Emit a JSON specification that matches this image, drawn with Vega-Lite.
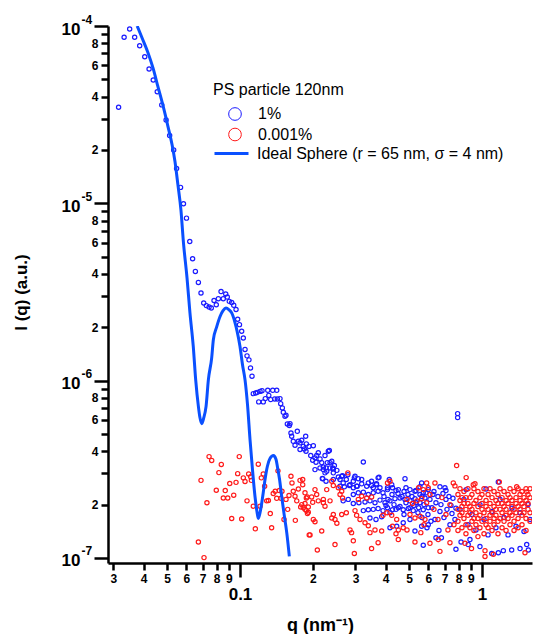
{
"$schema":"https://vega.github.io/schema/vega-lite/v6.json",
"width":424,"height":537,
"autosize":{"type":"none"},
"padding":{"left":108,"top":26,"right":6,"bottom":71},
"config":{"font":"Liberation Sans","view":{"stroke":null},"axis":{"grid":false}},
"resolve":{"axis":{"y":"independent"},"scale":{"color":"independent"}},
"datasets":{
"pts":[
{"s":"1%","q":0.0315,"I":3.48e-5},{"s":"1%","q":0.0332,"I":8.64e-5},{"s":"1%","q":0.0350,"I":9.62e-5},{"s":"1%","q":0.0367,"I":8.64e-5},{"s":"1%","q":0.0385,"I":7.74e-5},{"s":"1%","q":0.0404,"I":6.71e-5},{"s":"1%","q":0.0421,"I":5.72e-5},{"s":"1%","q":0.0438,"I":4.96e-5},{"s":"1%","q":0.0455,"I":4.26e-5},{"s":"1%","q":0.0475,"I":3.59e-5},{"s":"1%","q":0.0495,"I":2.95e-5},{"s":"1%","q":0.0512,"I":2.41e-5},{"s":"1%","q":0.0532,"I":2.00e-5},{"s":"1%","q":0.0547,"I":1.57e-5},{"s":"1%","q":0.0568,"I":1.23e-5},{"s":"1%","q":0.0584,"I":9.94e-6},{"s":"1%","q":0.0601,"I":8.25e-6},{"s":"1%","q":0.0620,"I":6.09e-6},{"s":"1%","q":0.0637,"I":4.87e-6},{"s":"1%","q":0.0654,"I":4.13e-6},{"s":"1%","q":0.0673,"I":3.58e-6},{"s":"1%","q":0.0690,"I":3.12e-6},{"s":"1%","q":0.0708,"I":2.74e-6},{"s":"1%","q":0.0726,"I":2.65e-6},{"s":"1%","q":0.0745,"I":2.60e-6},{"s":"1%","q":0.0761,"I":2.57e-6},{"s":"1%","q":0.0781,"I":2.83e-6},{"s":"1%","q":0.0798,"I":2.68e-6},{"s":"1%","q":0.0814,"I":2.90e-6},{"s":"1%","q":0.0835,"I":3.18e-6},{"s":"1%","q":0.0853,"I":2.90e-6},{"s":"1%","q":0.0873,"I":3.08e-6},{"s":"1%","q":0.0886,"I":2.96e-6},{"s":"1%","q":0.0903,"I":2.80e-6},{"s":"1%","q":0.0924,"I":2.76e-6},{"s":"1%","q":0.0942,"I":2.66e-6},{"s":"1%","q":0.0963,"I":2.52e-6},{"s":"1%","q":0.0978,"I":2.22e-6},{"s":"1%","q":0.0995,"I":2.07e-6},{"s":"1%","q":0.1016,"I":1.90e-6},{"s":"1%","q":0.1032,"I":1.74e-6},{"s":"1%","q":0.1049,"I":1.50e-6},{"s":"1%","q":0.1069,"I":1.38e-6},{"s":"1%","q":0.1089,"I":1.31e-6},{"s":"1%","q":0.1105,"I":1.18e-6},{"s":"1%","q":0.1121,"I":1.06e-6},{"s":"1%","q":0.1135,"I":8.45e-7},{"s":"1%","q":0.1161,"I":8.52e-7},{"s":"1%","q":0.1179,"I":8.59e-7},{"s":"1%","q":0.1195,"I":7.59e-7},{"s":"1%","q":0.1210,"I":8.70e-7},{"s":"1%","q":0.1233,"I":8.78e-7},{"s":"1%","q":0.1248,"I":7.59e-7},{"s":"1%","q":0.1272,"I":7.92e-7},{"s":"1%","q":0.1302,"I":8.82e-7},{"s":"1%","q":0.1315,"I":8.26e-7},{"s":"1%","q":0.1339,"I":7.82e-7},{"s":"1%","q":0.1365,"I":8.82e-7},{"s":"1%","q":0.1391,"I":7.89e-7},{"s":"1%","q":0.1418,"I":8.82e-7},{"s":"1%","q":0.1427,"I":7.89e-7},{"s":"1%","q":0.1463,"I":7.92e-7},{"s":"1%","q":0.1473,"I":7.42e-7},{"s":"1%","q":0.1496,"I":7.02e-7},{"s":"1%","q":0.1510,"I":6.63e-7},{"s":"1%","q":0.1534,"I":6.29e-7},{"s":"1%","q":0.1549,"I":6.38e-7},{"s":"1%","q":0.1569,"I":5.70e-7},{"s":"1%","q":0.1599,"I":5.58e-7},{"s":"1%","q":0.1609,"I":5.72e-7},{"s":"1%","q":0.1624,"I":5.07e-7},{"s":"1%","q":0.1635,"I":4.86e-7},{"s":"1%","q":0.1660,"I":4.55e-7},{"s":"1%","q":0.1688,"I":4.32e-7},{"s":"1%","q":0.1725,"I":5.18e-7},{"s":"1%","q":0.1742,"I":4.55e-7},{"s":"1%","q":0.1770,"I":4.09e-7},{"s":"1%","q":0.1770,"I":4.46e-7},{"s":"1%","q":0.1799,"I":4.61e-7},{"s":"1%","q":0.1826,"I":4.26e-7},{"s":"1%","q":0.1843,"I":4.12e-7},{"s":"1%","q":0.1868,"I":4.86e-7},{"s":"1%","q":0.1880,"I":4.40e-7},{"s":"1%","q":0.1874,"I":4.00e-7},{"s":"1%","q":0.1928,"I":4.26e-7},{"s":"1%","q":0.1960,"I":3.78e-7},{"s":"1%","q":0.1997,"I":3.56e-7},{"s":"1%","q":0.2009,"I":4.30e-7},{"s":"1%","q":0.2041,"I":3.67e-7},{"s":"1%","q":0.2074,"I":3.78e-7},{"s":"1%","q":0.2106,"I":3.92e-7},{"s":"1%","q":0.2141,"I":3.62e-7},{"s":"1%","q":0.2176,"I":3.45e-7},{"s":"1%","q":0.2210,"I":3.15e-7},{"s":"1%","q":0.2245,"I":3.78e-7},{"s":"1%","q":0.2267,"I":3.22e-7},{"s":"1%","q":0.2295,"I":3.45e-7},{"s":"1%","q":0.2317,"I":4.00e-7},{"s":"1%","q":0.2355,"I":3.45e-7},{"s":"1%","q":0.2394,"I":3.51e-7},{"s":"1%","q":0.2417,"I":3.22e-7},{"s":"1%","q":0.2454,"I":3.32e-7},{"s":"1%","q":0.2513,"I":3.12e-7},{"s":"1%","q":0.2189,"I":2.81e-7},{"s":"1%","q":0.2267,"I":2.71e-7},{"s":"1%","q":0.2590,"I":2.77e-7},{"s":"1%","q":0.2632,"I":2.89e-7},{"s":"1%","q":0.2669,"I":2.65e-7},{"s":"1%","q":0.2750,"I":2.77e-7},{"s":"1%","q":0.2790,"I":2.95e-7},{"s":"1%","q":0.2848,"I":2.59e-7},{"s":"1%","q":0.2939,"I":2.71e-7},{"s":"1%","q":0.2987,"I":2.89e-7},{"s":"1%","q":0.3033,"I":2.54e-7},{"s":"1%","q":0.3183,"I":2.77e-7},{"s":"1%","q":0.3233,"I":3.48e-7},{"s":"1%","q":0.3339,"I":2.54e-7},{"s":"1%","q":0.3390,"I":2.65e-7},{"s":"1%","q":0.3497,"I":2.71e-7},{"s":"1%","q":0.3553,"I":2.49e-7},{"s":"1%","q":0.3665,"I":2.59e-7},{"s":"1%","q":0.3721,"I":2.83e-7},
{"s":"1%","q":0.2041,"I":3.15e-7},{"s":"1%","q":0.2141,"I":3.22e-7},{"s":"1%","q":0.2210,"I":3.26e-7},{"s":"1%","q":0.2282,"I":3.08e-7},{"s":"1%","q":0.2355,"I":3.22e-7},{"s":"1%","q":0.2430,"I":3.18e-7},{"s":"1%","q":0.2245,"I":3.02e-7},{"s":"1%","q":0.2430,"I":3.02e-7},{"s":"1%","q":0.2061,"I":3.47e-7},{"s":"1%","q":0.2340,"I":4.04e-7},{"s":"1%","q":0.2198,"I":2.80e-7},{"s":"1%","q":0.2430,"I":2.77e-7},{"s":"1%","q":0.2549,"I":2.86e-7},{"s":"1%","q":0.2654,"I":2.91e-7},{"s":"1%","q":0.2968,"I":2.83e-7},{"s":"1%","q":0.3082,"I":2.80e-7},{"s":"1%","q":0.3752,"I":2.85e-7},{"s":"1%","q":0.2590,"I":2.54e-7},{"s":"1%","q":0.2698,"I":2.52e-7},{"s":"1%","q":0.2829,"I":2.56e-7},{"s":"1%","q":0.2940,"I":2.49e-7},{"s":"1%","q":0.3050,"I":2.54e-7},{"s":"1%","q":0.3183,"I":2.62e-7},{"s":"1%","q":0.3497,"I":2.56e-7},{"s":"1%","q":0.3665,"I":2.62e-7},{"s":"1%","q":0.3788,"I":2.49e-7},
{"s":"1%","q":0.2939,"I":2.28e-7},{"s":"1%","q":0.3082,"I":2.33e-7},{"s":"1%","q":0.3233,"I":2.35e-7},{"s":"1%","q":0.3390,"I":2.28e-7},{"s":"1%","q":0.3553,"I":2.33e-7},{"s":"1%","q":0.3721,"I":2.38e-7},{"s":"1%","q":0.3898,"I":2.33e-7},{"s":"1%","q":0.4069,"I":2.43e-7},{"s":"1%","q":0.4266,"I":2.49e-7},{"s":"1%","q":0.4509,"I":2.43e-7},{"s":"1%","q":0.4806,"I":2.80e-7},{"s":"1%","q":0.4851,"I":2.49e-7},{"s":"1%","q":0.5039,"I":2.43e-7},{"s":"1%","q":0.5284,"I":2.38e-7},{"s":"1%","q":0.5541,"I":2.52e-7},{"s":"1%","q":0.5718,"I":2.33e-7},{"s":"1%","q":0.5996,"I":2.43e-7},
{"s":"1%","q":0.2669,"I":2.10e-7},{"s":"1%","q":0.2801,"I":2.14e-7},{"s":"1%","q":0.2939,"I":2.03e-7},{"s":"1%","q":0.3100,"I":2.05e-7},{"s":"1%","q":0.3285,"I":2.07e-7},{"s":"1%","q":0.3444,"I":2.10e-7},{"s":"1%","q":0.3612,"I":2.05e-7},{"s":"1%","q":0.3788,"I":2.12e-7},{"s":"1%","q":0.3973,"I":2.05e-7},{"s":"1%","q":0.4166,"I":2.10e-7},{"s":"1%","q":0.4369,"I":2.16e-7},{"s":"1%","q":0.4582,"I":2.18e-7},{"s":"1%","q":0.4806,"I":2.14e-7},{"s":"1%","q":0.5039,"I":2.10e-7},{"s":"1%","q":0.5284,"I":2.16e-7},{"s":"1%","q":0.5541,"I":2.05e-7},{"s":"1%","q":0.5811,"I":2.18e-7},
{"s":"1%","q":0.3233,"I":1.85e-7},{"s":"1%","q":0.3390,"I":1.87e-7},{"s":"1%","q":0.3553,"I":1.88e-7},{"s":"1%","q":0.3721,"I":1.90e-7},{"s":"1%","q":0.3898,"I":1.85e-7},{"s":"1%","q":0.4069,"I":1.92e-7},{"s":"1%","q":0.4266,"I":1.87e-7},{"s":"1%","q":0.4509,"I":1.92e-7},{"s":"1%","q":0.4726,"I":1.87e-7},{"s":"1%","q":0.4960,"I":1.90e-7},{"s":"1%","q":0.5199,"I":1.85e-7},{"s":"1%","q":0.5472,"I":1.92e-7},{"s":"1%","q":0.5718,"I":1.87e-7},{"s":"1%","q":0.5996,"I":1.92e-7},
{"s":"1%","q":0.3444,"I":1.68e-7},{"s":"1%","q":0.3647,"I":1.65e-7},{"s":"1%","q":0.3849,"I":1.71e-7},{"s":"1%","q":0.4166,"I":1.48e-7},{"s":"1%","q":0.4441,"I":1.51e-7},{"s":"1%","q":0.4726,"I":1.58e-7},{"s":"1%","q":0.5039,"I":1.65e-7},{"s":"1%","q":0.5284,"I":1.42e-7},{"s":"1%","q":0.5630,"I":1.51e-7},{"s":"1%","q":0.5996,"I":1.54e-7},{"s":"1%","q":0.5718,"I":1.18e-7},
{"s":"1%","q":0.4138,"I":2.77e-7},{"s":"1%","q":0.4236,"I":2.59e-7},{"s":"1%","q":0.4069,"I":2.49e-7},
{"s":"1%","q":0.7930,"I":6.52e-7},{"s":"1%","q":0.7930,"I":6.19e-7},{"s":"1%","q":0.5630,"I":2.65e-7},{"s":"1%","q":0.6702,"I":2.52e-7},{"s":"1%","q":0.7029,"I":2.49e-7},{"s":"1%","q":0.8600,"I":2.43e-7},{"s":"1%","q":1.168,"I":2.68e-7},{"s":"1%","q":1.039,"I":2.45e-7},
{"s":"1%","q":0.5648,"I":2.22e-7},{"s":"1%","q":0.5756,"I":2.00e-7},{"s":"1%","q":0.5867,"I":2.33e-7},{"s":"1%","q":0.5979,"I":1.76e-7},{"s":"1%","q":0.6094,"I":2.14e-7},{"s":"1%","q":0.6211,"I":1.92e-7},{"s":"1%","q":0.6270,"I":2.28e-7},{"s":"1%","q":0.6391,"I":1.65e-7},{"s":"1%","q":0.6452,"I":2.05e-7},{"s":"1%","q":0.6576,"I":2.22e-7},{"s":"1%","q":0.6702,"I":1.83e-7},{"s":"1%","q":0.6766,"I":2.00e-7},{"s":"1%","q":0.6896,"I":2.31e-7},{"s":"1%","q":0.6962,"I":1.69e-7},{"s":"1%","q":0.7096,"I":2.14e-7},{"s":"1%","q":0.7164,"I":1.88e-7},{"s":"1%","q":0.7302,"I":2.22e-7},{"s":"1%","q":0.7371,"I":1.54e-7},{"s":"1%","q":0.7442,"I":1.98e-7},{"s":"1%","q":0.7513,"I":1.78e-7},{"s":"1%","q":0.7585,"I":2.17e-7},{"s":"1%","q":0.7730,"I":1.65e-7},{"s":"1%","q":0.7804,"I":1.91e-7},{"s":"1%","q":0.5923,"I":1.48e-7},{"s":"1%","q":0.6152,"I":1.61e-7},{"s":"1%","q":0.6639,"I":1.43e-7},
{"s":"1%","q":0.6452,"I":1.30e-7},{"s":"1%","q":0.6796,"I":1.30e-7},{"s":"1%","q":0.7804,"I":1.12e-7},{"s":"1%","q":0.8193,"I":1.23e-7},{"s":"1%","q":0.8770,"I":1.19e-7},{"s":"1%","q":0.9806,"I":1.16e-7},{"s":"1%","q":1.097,"I":1.06e-7},{"s":"1%","q":1.168,"I":1.07e-7},{"s":"1%","q":1.225,"I":1.10e-7},{"s":"1%","q":1.326,"I":1.11e-7},{"s":"1%","q":1.436,"I":1.13e-7},{"s":"1%","q":1.530,"I":1.19e-7},{"s":"1%","q":1.554,"I":1.11e-7},
{"s":"1%","q":0.8107,"I":1.88e-7},{"s":"1%","q":0.8421,"I":2.14e-7},{"s":"1%","q":0.8748,"I":1.54e-7},{"s":"1%","q":0.9087,"I":1.76e-7},{"s":"1%","q":0.9440,"I":1.44e-7},{"s":"1%","q":0.9806,"I":2.00e-7},{"s":"1%","q":1.019,"I":1.65e-7},{"s":"1%","q":1.059,"I":1.35e-7},{"s":"1%","q":1.100,"I":1.83e-7},{"s":"1%","q":1.142,"I":1.48e-7},{"s":"1%","q":1.187,"I":2.14e-7},{"s":"1%","q":1.233,"I":1.69e-7},{"s":"1%","q":1.281,"I":1.35e-7},{"s":"1%","q":1.330,"I":1.91e-7},{"s":"1%","q":1.382,"I":1.51e-7},{"s":"1%","q":1.436,"I":1.80e-7},{"s":"1%","q":1.491,"I":1.41e-7},{"s":"1%","q":1.549,"I":2.00e-7},{"s":"1%","q":1.579,"I":1.65e-7},{"s":"1%","q":0.8916,"I":1.27e-7},
{"s":"1%","q":0.3935,"I":2.22e-7},{"s":"1%","q":0.4011,"I":1.98e-7},{"s":"1%","q":0.4088,"I":2.14e-7},{"s":"1%","q":0.4166,"I":1.80e-7},{"s":"1%","q":0.4246,"I":2.28e-7},{"s":"1%","q":0.4328,"I":2.00e-7},{"s":"1%","q":0.4411,"I":1.88e-7},{"s":"1%","q":0.4496,"I":2.31e-7},{"s":"1%","q":0.4582,"I":1.95e-7},{"s":"1%","q":0.4670,"I":2.22e-7},{"s":"1%","q":0.4760,"I":1.76e-7},{"s":"1%","q":0.4851,"I":2.05e-7},{"s":"1%","q":0.4944,"I":2.28e-7},{"s":"1%","q":0.5039,"I":1.92e-7},{"s":"1%","q":0.5136,"I":2.22e-7},{"s":"1%","q":0.5234,"I":1.98e-7},{"s":"1%","q":0.5335,"I":2.40e-7},{"s":"1%","q":0.5437,"I":1.80e-7},{"s":"1%","q":0.5541,"I":2.28e-7},{"s":"1%","q":0.5648,"I":1.69e-7},{"s":"1%","q":0.4760,"I":2.37e-7},{"s":"1%","q":0.5335,"I":2.05e-7},{"s":"1%","q":0.4411,"I":2.40e-7},{"s":"1%","q":0.6330,"I":2.37e-7},{"s":"1%","q":0.7096,"I":2.40e-7},
{"s":"0.001%","q":0.0673,"I":1.23e-7},{"s":"0.001%","q":0.0710,"I":1.005e-7},{"s":"0.001%","q":0.0690,"I":2.74e-7},{"s":"0.001%","q":0.0730,"I":2.05e-7},{"s":"0.001%","q":0.0745,"I":3.73e-7},{"s":"0.001%","q":0.0764,"I":3.55e-7},{"s":"0.001%","q":0.0798,"I":2.41e-7},{"s":"0.001%","q":0.0818,"I":3.03e-7},{"s":"0.001%","q":0.0837,"I":3.37e-7},{"s":"0.001%","q":0.0853,"I":2.18e-7},{"s":"0.001%","q":0.0869,"I":2.40e-7},{"s":"0.001%","q":0.0890,"I":2.18e-7},{"s":"0.001%","q":0.0907,"I":2.63e-7},{"s":"0.001%","q":0.0924,"I":1.67e-7},{"s":"0.001%","q":0.0942,"I":2.26e-7},{"s":"0.001%","q":0.0963,"I":2.67e-7},{"s":"0.001%","q":0.0978,"I":2.99e-7},{"s":"0.001%","q":0.0993,"I":3.73e-7},{"s":"0.001%","q":0.1016,"I":1.66e-7},{"s":"0.001%","q":0.1032,"I":2.83e-7},{"s":"0.001%","q":0.1049,"I":2.70e-7},{"s":"0.001%","q":0.1069,"I":2.10e-7},{"s":"0.001%","q":0.1086,"I":2.98e-7},{"s":"0.001%","q":0.1107,"I":2.87e-7},{"s":"0.001%","q":0.1114,"I":2.74e-7},{"s":"0.001%","q":0.1135,"I":1.96e-7},{"s":"0.001%","q":0.1157,"I":1.46e-7},{"s":"0.001%","q":0.1190,"I":3.38e-7},{"s":"0.001%","q":0.1210,"I":1.96e-7},{"s":"0.001%","q":0.1225,"I":2.83e-7},{"s":"0.001%","q":0.1248,"I":2.98e-7},{"s":"0.001%","q":0.1264,"I":2.54e-7},{"s":"0.001%","q":0.1289,"I":2.10e-7},{"s":"0.001%","q":0.1310,"I":2.11e-7},{"s":"0.001%","q":0.1334,"I":1.78e-7},{"s":"0.001%","q":0.1351,"I":1.48e-7},{"s":"0.001%","q":0.1372,"I":2.31e-7},{"s":"0.001%","q":0.1398,"I":2.38e-7},{"s":"0.001%","q":0.1418,"I":2.17e-7},{"s":"0.001%","q":0.1435,"I":3.10e-7},{"s":"0.001%","q":0.1454,"I":2.40e-7},{"s":"0.001%","q":0.1476,"I":2.17e-7},{"s":"0.001%","q":0.1491,"I":2.38e-7},{"s":"0.001%","q":0.1520,"I":1.65e-7},{"s":"0.001%","q":0.1549,"I":2.14e-7},{"s":"0.001%","q":0.1574,"I":1.88e-7},{"s":"0.001%","q":0.1594,"I":2.25e-7},{"s":"0.001%","q":0.1624,"I":2.89e-7},{"s":"0.001%","q":0.1640,"I":2.65e-7},{"s":"0.001%","q":0.1660,"I":2.38e-7},{"s":"0.001%","q":0.1688,"I":2.23e-7},{"s":"0.001%","q":0.1693,"I":1.63e-7},{"s":"0.001%","q":0.1716,"I":2.10e-7},{"s":"0.001%","q":0.1742,"I":2.45e-7},{"s":"0.001%","q":0.1770,"I":2.74e-7},{"s":"0.001%","q":0.1816,"I":2.59e-7},{"s":"0.001%","q":0.1781,"I":1.94e-7},{"s":"0.001%","q":0.1826,"I":1.92e-7},{"s":"0.001%","q":0.1856,"I":1.88e-7},{"s":"0.001%","q":0.1880,"I":2.18e-7},{"s":"0.001%","q":0.1900,"I":1.78e-7},{"s":"0.001%","q":0.1932,"I":1.35e-7},
{"s":"0.001%","q":0.1816,"I":2.77e-7},{"s":"0.001%","q":0.1856,"I":2.33e-7},{"s":"0.001%","q":0.1896,"I":2.21e-7},{"s":"0.001%","q":0.1799,"I":2.00e-7},{"s":"0.001%","q":0.1856,"I":2.03e-7},{"s":"0.001%","q":0.1915,"I":1.94e-7},{"s":"0.001%","q":0.1880,"I":1.85e-7},{"s":"0.001%","q":0.1915,"I":1.81e-7},{"s":"0.001%","q":0.2041,"I":2.43e-7},{"s":"0.001%","q":0.2074,"I":2.28e-7},{"s":"0.001%","q":0.1977,"I":2.21e-7},{"s":"0.001%","q":0.1997,"I":2.06e-7},{"s":"0.001%","q":0.2106,"I":2.10e-7},{"s":"0.001%","q":0.2210,"I":2.14e-7},{"s":"0.001%","q":0.2210,"I":2.05e-7},{"s":"0.001%","q":0.2245,"I":1.96e-7},{"s":"0.001%","q":0.2355,"I":2.10e-7},{"s":"0.001%","q":0.2009,"I":1.65e-7},{"s":"0.001%","q":0.2041,"I":1.60e-7},{"s":"0.001%","q":0.1947,"I":1.35e-7},{"s":"0.001%","q":0.2176,"I":1.42e-7},{"s":"0.001%","q":0.2087,"I":1.11e-7},{"s":"0.001%","q":0.2430,"I":1.76e-7},{"s":"0.001%","q":0.2394,"I":1.68e-7},{"s":"0.001%","q":0.2469,"I":1.65e-7},{"s":"0.001%","q":0.2513,"I":1.57e-7},{"s":"0.001%","q":0.2282,"I":2.43e-7},{"s":"0.001%","q":0.2394,"I":2.71e-7},{"s":"0.001%","q":0.2430,"I":2.56e-7},{"s":"0.001%","q":0.2549,"I":2.49e-7},{"s":"0.001%","q":0.2469,"I":1.19e-7},{"s":"0.001%","q":0.2590,"I":2.28e-7},{"s":"0.001%","q":0.2632,"I":2.38e-7},{"s":"0.001%","q":0.2654,"I":2.18e-7},{"s":"0.001%","q":0.2750,"I":1.80e-7},{"s":"0.001%","q":0.2632,"I":1.76e-7},{"s":"0.001%","q":0.2790,"I":3.02e-7},{"s":"0.001%","q":0.2848,"I":1.44e-7},{"s":"0.001%","q":0.2891,"I":1.39e-7},{"s":"0.001%","q":0.2939,"I":1.25e-7},{"s":"0.001%","q":0.2968,"I":1.06e-7},{"s":"0.001%","q":0.2987,"I":1.85e-7},{"s":"0.001%","q":0.3033,"I":1.74e-7},{"s":"0.001%","q":0.3132,"I":1.65e-7},{"s":"0.001%","q":0.3285,"I":1.58e-7},{"s":"0.001%","q":0.3390,"I":1.52e-7},{"s":"0.001%","q":0.3082,"I":2.14e-7},{"s":"0.001%","q":0.3183,"I":2.23e-7},{"s":"0.001%","q":0.3339,"I":2.18e-7},{"s":"0.001%","q":0.3497,"I":2.21e-7},{"s":"0.001%","q":0.3444,"I":1.39e-7},{"s":"0.001%","q":0.3612,"I":1.44e-7},{"s":"0.001%","q":0.3849,"I":1.42e-7},{"s":"0.001%","q":0.3497,"I":1.13e-7},{"s":"0.001%","q":0.3721,"I":1.22e-7},{"s":"0.001%","q":0.3898,"I":1.74e-7},{"s":"0.001%","q":0.4050,"I":1.80e-7},{"s":"0.001%","q":0.4236,"I":1.74e-7},{"s":"0.001%","q":0.4441,"I":1.65e-7},{"s":"0.001%","q":0.4069,"I":2.65e-7},{"s":"0.001%","q":0.4166,"I":2.71e-7},{"s":"0.001%","q":0.4266,"I":1.51e-7},{"s":"0.001%","q":0.4509,"I":1.44e-7},{"s":"0.001%","q":0.4726,"I":1.48e-7},{"s":"0.001%","q":0.4411,"I":1.37e-7},{"s":"0.001%","q":0.4509,"I":1.27e-7},{"s":"0.001%","q":0.5284,"I":1.23e-7},{"s":"0.001%","q":0.4898,"I":2.14e-7},{"s":"0.001%","q":0.5160,"I":2.03e-7},{"s":"0.001%","q":0.5386,"I":2.10e-7},{"s":"0.001%","q":0.5630,"I":2.16e-7},{"s":"0.001%","q":0.5904,"I":2.05e-7},{"s":"0.001%","q":0.5039,"I":1.76e-7},{"s":"0.001%","q":0.5284,"I":1.68e-7},{"s":"0.001%","q":0.5541,"I":1.72e-7},{"s":"0.001%","q":0.5811,"I":1.65e-7},{"s":"0.001%","q":0.5472,"I":2.49e-7},{"s":"0.001%","q":0.5718,"I":2.43e-7},{"s":"0.001%","q":0.5996,"I":2.49e-7},{"s":"0.001%","q":0.5587,"I":1.39e-7},{"s":"0.001%","q":0.4898,"I":1.44e-7},
{"s":"0.001%","q":0.7854,"I":3.32e-7},{"s":"0.001%","q":0.8600,"I":2.84e-7},{"s":"0.001%","q":0.5904,"I":2.65e-7},{"s":"0.001%","q":0.6391,"I":2.65e-7},{"s":"0.001%","q":0.7609,"I":2.65e-7},{"s":"0.001%","q":0.7730,"I":2.55e-7},{"s":"0.001%","q":0.9201,"I":2.59e-7},{"s":"0.001%","q":0.9351,"I":2.62e-7},{"s":"0.001%","q":1.179,"I":2.68e-7},{"s":"0.001%","q":1.391,"I":2.52e-7},{"s":"0.001%","q":1.530,"I":2.36e-7},{"s":"0.001%","q":0.6702,"I":1.09e-7},{"s":"0.001%","q":1.029,"I":1.02e-7},{"s":"0.001%","q":1.114,"I":1.05e-7},{"s":"0.001%","q":1.029,"I":1.10e-7},{"s":"0.001%","q":1.505,"I":1.07e-7},{"s":"0.001%","q":0.9050,"I":1.13e-7},{"s":"0.001%","q":0.8502,"I":1.21e-7},{"s":"0.001%","q":0.6094,"I":1.21e-7},{"s":"0.001%","q":0.6595,"I":1.27e-7},{"s":"0.001%","q":0.7371,"I":1.22e-7},{"s":"0.001%","q":0.6094,"I":2.28e-7},{"s":"0.001%","q":0.6330,"I":1.88e-7},{"s":"0.001%","q":0.6576,"I":1.65e-7},{"s":"0.001%","q":0.6831,"I":2.19e-7},{"s":"0.001%","q":0.7096,"I":1.76e-7},{"s":"0.001%","q":0.7371,"I":2.00e-7},{"s":"0.001%","q":0.7657,"I":1.54e-7},{"s":"0.001%","q":0.5756,"I":1.54e-7},{"s":"0.001%","q":0.7232,"I":1.44e-7},
{"s":"0.001%","q":0.7954,"I":2.28e-7},{"s":"0.001%","q":0.7954,"I":1.88e-7},{"s":"0.001%","q":0.7954,"I":1.61e-7},{"s":"0.001%","q":0.7954,"I":1.43e-7},
{"s":"0.001%","q":0.8107,"I":2.11e-7},{"s":"0.001%","q":0.8107,"I":1.74e-7},{"s":"0.001%","q":0.8107,"I":2.46e-7},
{"s":"0.001%","q":0.8262,"I":1.95e-7},{"s":"0.001%","q":0.8262,"I":2.19e-7},{"s":"0.001%","q":0.8262,"I":1.48e-7},{"s":"0.001%","q":0.8262,"I":1.80e-7},
{"s":"0.001%","q":0.8421,"I":2.37e-7},{"s":"0.001%","q":0.8421,"I":1.67e-7},{"s":"0.001%","q":0.8421,"I":2.03e-7},
{"s":"0.001%","q":0.8583,"I":1.88e-7},{"s":"0.001%","q":0.8583,"I":1.54e-7},{"s":"0.001%","q":0.8583,"I":2.19e-7},{"s":"0.001%","q":0.8583,"I":1.37e-7},
{"s":"0.001%","q":0.8748,"I":2.46e-7},{"s":"0.001%","q":0.8748,"I":2.03e-7},{"s":"0.001%","q":0.8748,"I":1.74e-7},
{"s":"0.001%","q":0.8916,"I":2.19e-7},{"s":"0.001%","q":0.8916,"I":1.80e-7},{"s":"0.001%","q":0.8916,"I":1.48e-7},{"s":"0.001%","q":0.8916,"I":1.95e-7},
{"s":"0.001%","q":0.9087,"I":2.28e-7},{"s":"0.001%","q":0.9087,"I":1.61e-7},{"s":"0.001%","q":0.9087,"I":1.88e-7},
{"s":"0.001%","q":0.9262,"I":2.03e-7},{"s":"0.001%","q":0.9262,"I":2.46e-7},{"s":"0.001%","q":0.9262,"I":1.67e-7},{"s":"0.001%","q":0.9262,"I":1.43e-7},
{"s":"0.001%","q":0.9440,"I":2.11e-7},{"s":"0.001%","q":0.9440,"I":1.80e-7},{"s":"0.001%","q":0.9440,"I":1.54e-7},
{"s":"0.001%","q":0.9621,"I":2.37e-7},{"s":"0.001%","q":0.9621,"I":1.95e-7},{"s":"0.001%","q":0.9621,"I":1.67e-7},{"s":"0.001%","q":0.9621,"I":1.32e-7},
{"s":"0.001%","q":0.9806,"I":2.19e-7},{"s":"0.001%","q":0.9806,"I":1.74e-7},{"s":"0.001%","q":0.9806,"I":1.48e-7},
{"s":"0.001%","q":1.000,"I":1.88e-7},{"s":"0.001%","q":1.000,"I":2.28e-7},{"s":"0.001%","q":1.000,"I":1.61e-7},{"s":"0.001%","q":1.000,"I":2.03e-7},
{"s":"0.001%","q":1.019,"I":2.46e-7},{"s":"0.001%","q":1.019,"I":1.80e-7},{"s":"0.001%","q":1.019,"I":1.37e-7},
{"s":"0.001%","q":1.039,"I":2.11e-7},{"s":"0.001%","q":1.039,"I":1.67e-7},{"s":"0.001%","q":1.039,"I":1.95e-7},{"s":"0.001%","q":1.039,"I":1.54e-7},
{"s":"0.001%","q":1.059,"I":2.28e-7},{"s":"0.001%","q":1.059,"I":1.88e-7},{"s":"0.001%","q":1.059,"I":1.48e-7},
{"s":"0.001%","q":1.079,"I":2.03e-7},{"s":"0.001%","q":1.079,"I":2.46e-7},{"s":"0.001%","q":1.079,"I":1.74e-7},{"s":"0.001%","q":1.079,"I":1.61e-7},
{"s":"0.001%","q":1.100,"I":2.19e-7},{"s":"0.001%","q":1.100,"I":1.80e-7},{"s":"0.001%","q":1.100,"I":1.43e-7},
{"s":"0.001%","q":1.121,"I":1.95e-7},{"s":"0.001%","q":1.121,"I":2.37e-7},{"s":"0.001%","q":1.121,"I":1.67e-7},{"s":"0.001%","q":1.121,"I":1.54e-7},
{"s":"0.001%","q":1.142,"I":2.11e-7},{"s":"0.001%","q":1.142,"I":1.74e-7},{"s":"0.001%","q":1.142,"I":1.88e-7},
{"s":"0.001%","q":1.164,"I":2.28e-7},{"s":"0.001%","q":1.164,"I":1.61e-7},{"s":"0.001%","q":1.164,"I":2.03e-7},{"s":"0.001%","q":1.164,"I":1.37e-7},
{"s":"0.001%","q":1.187,"I":2.46e-7},{"s":"0.001%","q":1.187,"I":1.88e-7},{"s":"0.001%","q":1.187,"I":1.67e-7},
{"s":"0.001%","q":1.210,"I":2.19e-7},{"s":"0.001%","q":1.210,"I":1.80e-7},{"s":"0.001%","q":1.210,"I":1.48e-7},{"s":"0.001%","q":1.210,"I":2.03e-7},
{"s":"0.001%","q":1.233,"I":1.95e-7},{"s":"0.001%","q":1.233,"I":2.37e-7},{"s":"0.001%","q":1.233,"I":1.61e-7},
{"s":"0.001%","q":1.257,"I":2.11e-7},{"s":"0.001%","q":1.257,"I":1.74e-7},{"s":"0.001%","q":1.257,"I":1.43e-7},{"s":"0.001%","q":1.257,"I":1.88e-7},
{"s":"0.001%","q":1.281,"I":2.28e-7},{"s":"0.001%","q":1.281,"I":2.03e-7},{"s":"0.001%","q":1.281,"I":1.67e-7},
{"s":"0.001%","q":1.305,"I":2.46e-7},{"s":"0.001%","q":1.305,"I":1.80e-7},{"s":"0.001%","q":1.305,"I":1.54e-7},{"s":"0.001%","q":1.305,"I":2.19e-7},
{"s":"0.001%","q":1.330,"I":2.11e-7},{"s":"0.001%","q":1.330,"I":1.74e-7},{"s":"0.001%","q":1.330,"I":1.95e-7},
{"s":"0.001%","q":1.356,"I":2.37e-7},{"s":"0.001%","q":1.356,"I":1.88e-7},{"s":"0.001%","q":1.356,"I":1.61e-7},{"s":"0.001%","q":1.356,"I":1.43e-7},
{"s":"0.001%","q":1.382,"I":2.19e-7},{"s":"0.001%","q":1.382,"I":1.80e-7},{"s":"0.001%","q":1.382,"I":2.03e-7},
{"s":"0.001%","q":1.409,"I":2.46e-7},{"s":"0.001%","q":1.409,"I":1.95e-7},{"s":"0.001%","q":1.409,"I":1.67e-7},{"s":"0.001%","q":1.409,"I":1.48e-7},
{"s":"0.001%","q":1.436,"I":2.28e-7},{"s":"0.001%","q":1.436,"I":1.88e-7},{"s":"0.001%","q":1.436,"I":2.11e-7},
{"s":"0.001%","q":1.463,"I":2.03e-7},{"s":"0.001%","q":1.463,"I":1.74e-7},{"s":"0.001%","q":1.463,"I":1.54e-7},{"s":"0.001%","q":1.463,"I":2.37e-7},
{"s":"0.001%","q":1.491,"I":2.19e-7},{"s":"0.001%","q":1.491,"I":1.80e-7},{"s":"0.001%","q":1.491,"I":1.95e-7},
{"s":"0.001%","q":1.520,"I":2.46e-7},{"s":"0.001%","q":1.520,"I":2.11e-7},{"s":"0.001%","q":1.520,"I":1.67e-7},{"s":"0.001%","q":1.520,"I":1.43e-7},
{"s":"0.001%","q":1.549,"I":2.28e-7},{"s":"0.001%","q":1.549,"I":1.88e-7},{"s":"0.001%","q":1.549,"I":2.03e-7},
{"s":"0.001%","q":1.579,"I":2.19e-7},{"s":"0.001%","q":1.579,"I":1.80e-7},{"s":"0.001%","q":1.579,"I":1.61e-7},{"s":"0.001%","q":1.579,"I":2.46e-7}
],
"fit":[
{"s":"Ideal Sphere (r = 65 nm, σ = 4 nm)","q":0.0376,"I":1.00e-4},{"s":"Ideal Sphere (r = 65 nm, σ = 4 nm)","q":0.0394,"I":8.56e-5},{"s":"Ideal Sphere (r = 65 nm, σ = 4 nm)","q":0.0417,"I":7.05e-5},{"s":"Ideal Sphere (r = 65 nm, σ = 4 nm)","q":0.0437,"I":5.80e-5},{"s":"Ideal Sphere (r = 65 nm, σ = 4 nm)","q":0.0458,"I":4.55e-5},{"s":"Ideal Sphere (r = 65 nm, σ = 4 nm)","q":0.0481,"I":3.54e-5},{"s":"Ideal Sphere (r = 65 nm, σ = 4 nm)","q":0.0504,"I":2.71e-5},{"s":"Ideal Sphere (r = 65 nm, σ = 4 nm)","q":0.0524,"I":2.14e-5},{"s":"Ideal Sphere (r = 65 nm, σ = 4 nm)","q":0.0539,"I":1.71e-5},{"s":"Ideal Sphere (r = 65 nm, σ = 4 nm)","q":0.0554,"I":1.27e-5},{"s":"Ideal Sphere (r = 65 nm, σ = 4 nm)","q":0.0570,"I":9.19e-6},{"s":"Ideal Sphere (r = 65 nm, σ = 4 nm)","q":0.0584,"I":5.99e-6},{"s":"Ideal Sphere (r = 65 nm, σ = 4 nm)","q":0.0604,"I":3.80e-6},{"s":"Ideal Sphere (r = 65 nm, σ = 4 nm)","q":0.0621,"I":2.42e-6},{"s":"Ideal Sphere (r = 65 nm, σ = 4 nm)","q":0.0641,"I":1.56e-6},{"s":"Ideal Sphere (r = 65 nm, σ = 4 nm)","q":0.0656,"I":1.01e-6},{"s":"Ideal Sphere (r = 65 nm, σ = 4 nm)","q":0.0673,"I":7.16e-7},{"s":"Ideal Sphere (r = 65 nm, σ = 4 nm)","q":0.0683,"I":6.19e-7},{"s":"Ideal Sphere (r = 65 nm, σ = 4 nm)","q":0.0695,"I":5.72e-7},{"s":"Ideal Sphere (r = 65 nm, σ = 4 nm)","q":0.0707,"I":6.11e-7},{"s":"Ideal Sphere (r = 65 nm, σ = 4 nm)","q":0.0724,"I":7.16e-7},{"s":"Ideal Sphere (r = 65 nm, σ = 4 nm)","q":0.0740,"I":1.01e-6},{"s":"Ideal Sphere (r = 65 nm, σ = 4 nm)","q":0.0764,"I":1.35e-6},{"s":"Ideal Sphere (r = 65 nm, σ = 4 nm)","q":0.0776,"I":1.70e-6},{"s":"Ideal Sphere (r = 65 nm, σ = 4 nm)","q":0.0801,"I":2.01e-6},{"s":"Ideal Sphere (r = 65 nm, σ = 4 nm)","q":0.0827,"I":2.30e-6},{"s":"Ideal Sphere (r = 65 nm, σ = 4 nm)","q":0.0851,"I":2.48e-6},{"s":"Ideal Sphere (r = 65 nm, σ = 4 nm)","q":0.0875,"I":2.57e-6},{"s":"Ideal Sphere (r = 65 nm, σ = 4 nm)","q":0.0901,"I":2.51e-6},{"s":"Ideal Sphere (r = 65 nm, σ = 4 nm)","q":0.0924,"I":2.41e-6},{"s":"Ideal Sphere (r = 65 nm, σ = 4 nm)","q":0.0954,"I":2.12e-6},{"s":"Ideal Sphere (r = 65 nm, σ = 4 nm)","q":0.0972,"I":1.91e-6},{"s":"Ideal Sphere (r = 65 nm, σ = 4 nm)","q":0.1000,"I":1.56e-6},{"s":"Ideal Sphere (r = 65 nm, σ = 4 nm)","q":0.1024,"I":1.23e-6},{"s":"Ideal Sphere (r = 65 nm, σ = 4 nm)","q":0.1049,"I":1.01e-6},{"s":"Ideal Sphere (r = 65 nm, σ = 4 nm)","q":0.1074,"I":7.32e-7},{"s":"Ideal Sphere (r = 65 nm, σ = 4 nm)","q":0.1100,"I":4.65e-7},{"s":"Ideal Sphere (r = 65 nm, σ = 4 nm)","q":0.1126,"I":3.15e-7},{"s":"Ideal Sphere (r = 65 nm, σ = 4 nm)","q":0.1153,"I":2.23e-7},{"s":"Ideal Sphere (r = 65 nm, σ = 4 nm)","q":0.1175,"I":1.83e-7},{"s":"Ideal Sphere (r = 65 nm, σ = 4 nm)","q":0.1190,"I":1.67e-7},{"s":"Ideal Sphere (r = 65 nm, σ = 4 nm)","q":0.1210,"I":1.80e-7},{"s":"Ideal Sphere (r = 65 nm, σ = 4 nm)","q":0.1241,"I":2.22e-7},{"s":"Ideal Sphere (r = 65 nm, σ = 4 nm)","q":0.1269,"I":2.77e-7},{"s":"Ideal Sphere (r = 65 nm, σ = 4 nm)","q":0.1297,"I":3.28e-7},{"s":"Ideal Sphere (r = 65 nm, σ = 4 nm)","q":0.1330,"I":3.64e-7},{"s":"Ideal Sphere (r = 65 nm, σ = 4 nm)","q":0.1375,"I":3.78e-7},{"s":"Ideal Sphere (r = 65 nm, σ = 4 nm)","q":0.1409,"I":3.59e-7},{"s":"Ideal Sphere (r = 65 nm, σ = 4 nm)","q":0.1427,"I":3.28e-7},{"s":"Ideal Sphere (r = 65 nm, σ = 4 nm)","q":0.1457,"I":2.77e-7},{"s":"Ideal Sphere (r = 65 nm, σ = 4 nm)","q":0.1487,"I":2.22e-7},{"s":"Ideal Sphere (r = 65 nm, σ = 4 nm)","q":0.1520,"I":1.78e-7},{"s":"Ideal Sphere (r = 65 nm, σ = 4 nm)","q":0.1560,"I":1.39e-7},{"s":"Ideal Sphere (r = 65 nm, σ = 4 nm)","q":0.1599,"I":1.02e-7}
]
},
"layer":[
{
"data":{"name":"pts"},
"mark":{"type":"point","filled":false,"size":18,"strokeWidth":1.2,"opacity":1,"clip":true},
"encoding":{
"x":{"field":"q","type":"quantitative","scale":{"type":"log","domain":[0.02848,1.609],"nice":false},
"axis":{"values":[0.03,0.04,0.05,0.06,0.07,0.08,0.09,0.1,0.2,0.3,0.4,0.5,0.6,0.7,0.8,0.9,1],
"labelExpr":"abs(log(datum.value)/LN10 - round(log(datum.value)/LN10)) < 0.001 ? (datum.value >= 0.99 ? '1' : '0.1') : '' + round(datum.value / pow(10, floor(log(datum.value)/LN10 + 0.001)))",
"title":"q (nm⁻¹)","titleFont":"Liberation Sans","titleFontSize":18,"titleFontWeight":"bold","titleColor":"black","titleY":67,"titleBaseline":"alphabetic",
"domainColor":"black","domainWidth":2.5,"tickColor":"black","tickWidth":2.5,
"tickSize":{"condition":{"test":"abs(log(datum.value)/LN10 - round(log(datum.value)/LN10)) < 0.001","value":14},"value":7},
"labelFontSize":{"condition":{"test":"abs(log(datum.value)/LN10 - round(log(datum.value)/LN10)) < 0.001","value":17},"value":12},
"labelPadding":{"condition":{"test":"abs(log(datum.value)/LN10 - round(log(datum.value)/LN10)) < 0.001","value":9.5},"value":3},
"labelFont":"Liberation Sans","labelFontWeight":"bold","labelColor":"black","labelFlush":false,"labelOverlap":false,"grid":false}},
"y":{"field":"I","type":"quantitative","scale":{"type":"log","domain":[9.37e-8,1e-4],"nice":false},
"axis":{"values":[1e-7,2e-7,3e-7,4e-7,5e-7,6e-7,7e-7,8e-7,9e-7,1e-6,2e-6,3e-6,4e-6,5e-6,6e-6,7e-6,8e-6,9e-6,1e-5,2e-5,3e-5,4e-5,5e-5,6e-5,7e-5,8e-5,9e-5,1e-4],
"labelExpr":"abs(log(datum.value)/LN10 - round(log(datum.value)/LN10)) < 0.001 ? '10' : (round(datum.value / pow(10, floor(log(datum.value)/LN10 + 0.001))) % 2 == 0 ? '' + round(datum.value / pow(10, floor(log(datum.value)/LN10 + 0.001))) : '')",
"title":"I (q) (a.u.)","titleFont":"Liberation Sans","titleFontSize":17,"titleFontWeight":"bold","titleColor":"black","titleX":-87,"titleY":266,"titleBaseline":"middle","titleAngle":-90,
"domainColor":"black","domainWidth":2.5,"tickColor":"black","tickWidth":2.5,
"tickSize":{"condition":{"test":"abs(log(datum.value)/LN10 - round(log(datum.value)/LN10)) < 0.001","value":14},"value":7},
"labelFontSize":{"condition":{"test":"abs(log(datum.value)/LN10 - round(log(datum.value)/LN10)) < 0.001","value":17},"value":12},
"labelPadding":{"condition":{"test":"abs(log(datum.value)/LN10 - round(log(datum.value)/LN10)) < 0.001","value":14},"value":3},
"labelOffset":{"condition":{"test":"abs(log(datum.value)/LN10 - round(log(datum.value)/LN10)) < 0.001","value":3},"value":0},
"labelFont":"Liberation Sans","labelFontWeight":"bold","labelColor":"black","labelFlush":false,"labelOverlap":false,"grid":false}},
"color":{"field":"s","type":"nominal","sort":null,
"scale":{"domain":["1%","0.001%"],"range":["#1a1aff","#ff1a1a"]},
"legend":{"title":"PS particle 120nm","orient":"none","legendX":105,"legendY":56,"padding":0,
"titleFont":"Liberation Sans","titleFontSize":16,"titleFontWeight":"normal","titleColor":"black","titlePadding":8,
"labelFont":"Liberation Sans","labelFontSize":16,"labelColor":"black","labelLimit":400,
"symbolSize":160,"symbolStrokeWidth":1,"symbolOffset":14,"labelOffset":15,"rowPadding":2.5,"symbolType":"circle"}}
}
},
{
"data":{"name":"fit"},
"mark":{"type":"line","strokeWidth":3,"interpolate":"monotone","clip":true},
"encoding":{
"x":{"field":"q","type":"quantitative","scale":{"type":"log","domain":[0.02848,1.609],"nice":false}},
"y":{"field":"I","type":"quantitative","scale":{"type":"log","domain":[9.37e-8,1e-4],"nice":false},
"axis":{"orient":"left","values":[1e-7,1e-6,1e-5,1e-4],"labelExpr":"'' + round(log(datum.value)/LN10)",
"ticks":false,"domain":false,"grid":false,"title":null,"labelAlign":"left","labelPadding":27,"labelOffset":-7,
"labelFontSize":12,"labelFontWeight":"bold","labelFont":"Liberation Sans","labelColor":"black","labelFlush":false,"labelOverlap":false}},
"color":{"field":"s","type":"nominal",
"scale":{"domain":["Ideal Sphere (r = 65 nm, σ = 4 nm)"],"range":["#0a50ff"]},
"legend":{"title":null,"orient":"none","legendX":105,"legendY":109,"padding":0,
"labelFont":"Liberation Sans","labelFontSize":16,"labelColor":"black","labelLimit":400,
"symbolType":"stroke","symbolSize":1156,"symbolStrokeWidth":3,"symbolOffset":0,"labelOffset":7}}
}
}
]
}
